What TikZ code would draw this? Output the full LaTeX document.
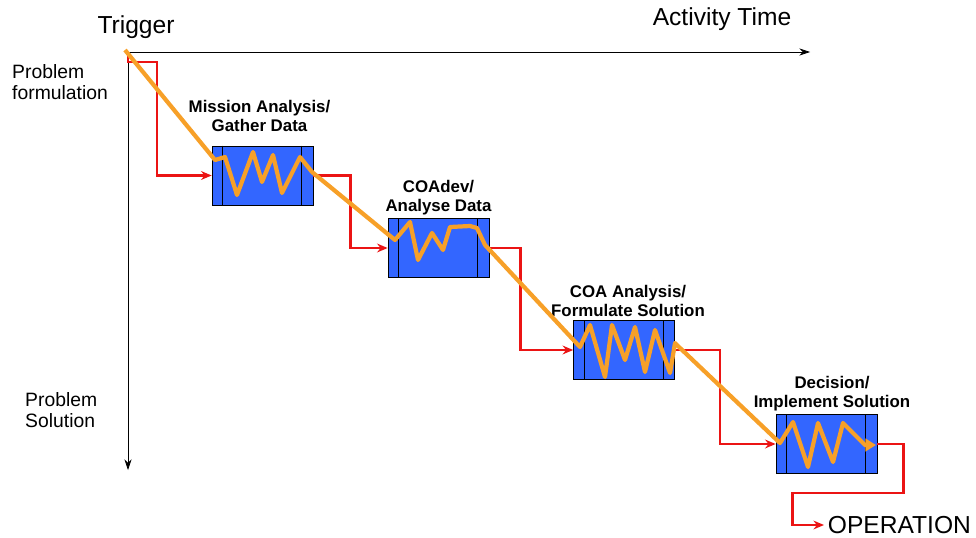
\documentclass[tikz,border=0pt]{standalone}
\usepackage{fontspec}
\setmainfont{Liberation Sans}
\usetikzlibrary{arrows.meta,positioning,calc}
\definecolor{boxblue}{RGB}{51,102,255}
\definecolor{trail}{RGB}{247,160,40}
\definecolor{flow}{RGB}{235,20,20}

\begin{document}
\begin{tikzpicture}[x=0.02cm, y=-0.02cm,
    task/.style={rectangle, draw=black, fill=boxblue, minimum width=2.02cm, minimum height=1.18cm, inner sep=0pt},
    tasklabel/.style={font=\fontsize{9.6}{10.6}\selectfont\bfseries, align=center, inner sep=1pt},
    side/.style={font=\fontsize{11}{11.5}\selectfont, align=left, anchor=west},
    big/.style={font=\fontsize{14}{16}\selectfont},
    axis/.style={-{Stealth[length=6pt,width=4pt]}, thin},
    flowline/.style={flow, line width=1.5pt, -{Stealth[length=6pt,width=5pt]}},
    trailline/.style={trail, line width=2.4pt, line join=round, -{Triangle[length=6pt,width=7pt]}}
]
\useasboundingbox (0,0) rectangle (976,537);

\coordinate (o) at (128,52);
\coordinate (tend) at (810,52);
\coordinate (send) at (128,470);
\coordinate (trig) at (125,50);

\node[big] (trigger) at (136,27) {Trigger};
\node[big] (time) at (722,19) {Activity Time};
\node[side] (form) at (6,82) {Problem\\formulation};
\node[side] (sol) at (19,410) {Problem\\Solution};

\node[task] (b1) at (262.5,175.5) {};
\node[task] (b2) at (438.5,248) {};
\node[task] (b3) at (624,350) {};
\node[task] (b4) at (826.5,444) {};

\node[tasklabel, above=0.24cm of b1, xshift=-0.06cm] (l1) {Mission Analysis/\\Gather Data};
\node[tasklabel, above=0.03cm of b2] (l2) {COAdev/\\Analyse Data};
\node[tasklabel, above=0.03cm of b3, xshift=0.08cm] (l3) {COA Analysis/\\Formulate Solution};
\node[tasklabel, above=0.03cm of b4, xshift=0.11cm] (l4) {Decision/\\Implement Solution};

\node[big, anchor=west, inner sep=2pt] (op) at (824,525) {OPERATION};

\foreach \b in {b1,b2,b3,b4} {
    \draw ([xshift=0.22cm]\b.north west) -- ([xshift=0.22cm]\b.south west);
    \draw ([xshift=-0.24cm]\b.north east) -- ([xshift=-0.24cm]\b.south east);
}

\draw[axis] (o) -- (tend);
\draw[axis] (o) -- (send);

\draw[flowline] (o) -- ++(0,10) -- ++(29,0) |- (b1.west);
\draw[flowline] (b1.east) -- ++(37,0) |- (b2.west);
\draw[flowline] (b2.east) -- ++(31,0) |- (b3.west);
\draw[flowline] (b3.east) -- ++(45,0) |- (b4.west);
\draw[flowline] (b4.east) -- ++(26,0) -- ++(0,49) -- ++(-111,0) |- (op.west);

\draw[trailline] (trig) -- (215,160) -- (225,157) -- (237,195) -- (253,152) -- (262,182)
    -- (273,155) -- (282,193) -- (300,157) -- (312,172)
    -- (395,240) -- (410,222) -- (418,260) -- (432,233) -- (443,250) -- (450,227)
    -- (470,226) -- (477,228) -- (485,245)
    -- (580,347) -- (590,325) -- (605,377) -- (612,325) -- (625,360) -- (635,327)
    -- (645,372) -- (655,330) -- (670,373) -- (675,343) -- (680,348)
    -- (780,443) -- (793,422) -- (808,467) -- (818,423) -- (833,462) -- (843,423)
    -- (865,445) -- (876,445);

\end{tikzpicture}
\end{document}
